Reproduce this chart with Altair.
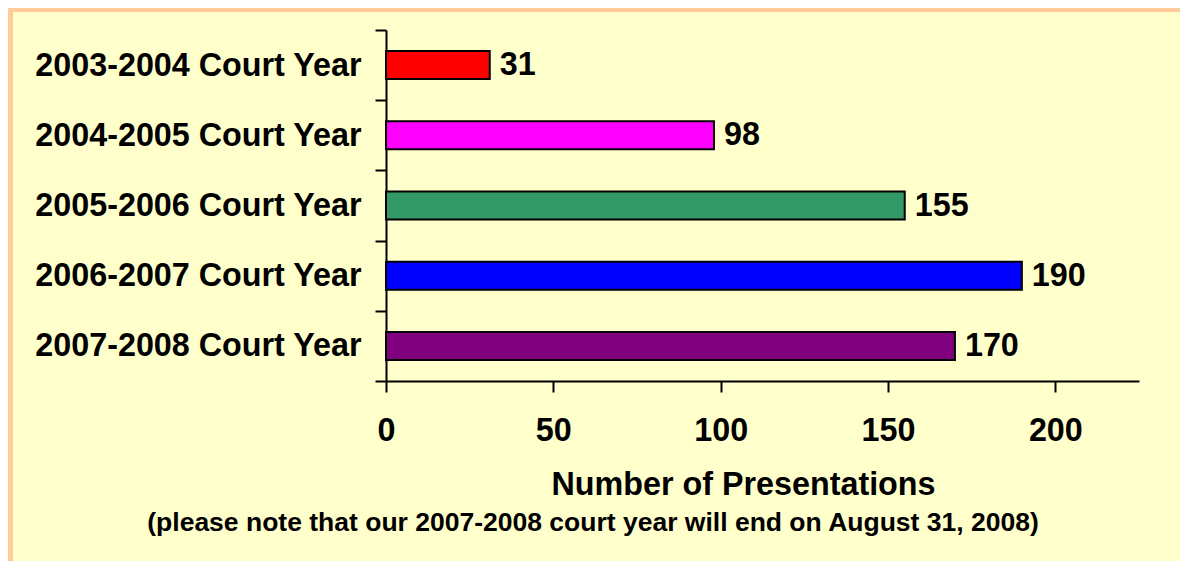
import altair as alt
import pandas as pd

# ---- data ----
categories = [
    "2003-2004 Court Year",
    "2004-2005 Court Year",
    "2005-2006 Court Year",
    "2006-2007 Court Year",
    "2007-2008 Court Year",
]
presentations = [31, 98, 155, 190, 170]
bar_colors = ["#FF0000", "#FF00FF", "#339966", "#0000FF", "#800080"]
x_ticks = [0, 50, 100, 150, 200]
x_domain = [0, 225]
x_title = "Number of Presentations"
caption = "(please note that our 2007-2008 court year will end on August 31, 2008)"

df = pd.DataFrame({"year": categories, "n": presentations})

FONT = "Liberation Sans"
BIG = 32.3
BG = "#FFFFCC"
FRAME = "#FFCC99"
PLOT_W, PLOT_H = 753, 351
PAD = {"left": 378, "top": 22, "right": 41, "bottom": 180}

y_enc = alt.Y(
    "year:N",
    sort=categories,
    scale=alt.Scale(paddingInner=0, paddingOuter=0),
    axis=alt.Axis(
        title=None,
        tickBand="extent",
        tickSize=11,
        tickWidth=2,
        tickColor="black",
        domainWidth=2,
        domainColor="black",
        labelFont=FONT,
        labelFontSize=BIG,
        labelFontWeight="bold",
        labelColor="black",
        labelPadding=14,
        labelLimit=0,
    ),
)
x_enc = alt.X(
    "n:Q",
    scale=alt.Scale(domain=x_domain, nice=False, zero=True),
    axis=alt.Axis(
        values=x_ticks,
        grid=False,
        title=x_title,
        titleFont=FONT,
        titleFontSize=BIG,
        titleFontWeight="bold",
        titleColor="black",
        titleX=357,
        titleY=113,
        titleAlign="center",
        titleBaseline="alphabetic",
        tickSize=11,
        tickWidth=2,
        tickColor="black",
        domainWidth=2,
        domainColor="black",
        labelFont=FONT,
        labelFontSize=BIG,
        labelFontWeight="bold",
        labelColor="black",
        labelBaseline="alphabetic",
        labelPadding=48,
        labelFlush=False,
    ),
)

frame_data = alt.Data(values=[{"k": 1}])
frame_top = alt.Chart(frame_data).mark_rect(color=FRAME).encode(
    x=alt.value(-381), x2=alt.value(802), y=alt.value(-26), y2=alt.value(-18)
)
frame_left = alt.Chart(frame_data).mark_rect(color=FRAME).encode(
    x=alt.value(-381), x2=alt.value(-373), y=alt.value(-26), y2=alt.value(545)
)

bars = alt.Chart(df).mark_bar(stroke="black", strokeWidth=2, size=28).encode(
    x=x_enc,
    y=y_enc,
    color=alt.Color(
        "year:N",
        scale=alt.Scale(domain=categories, range=bar_colors),
        legend=None,
    ),
)

labels = alt.Chart(df).mark_text(
    align="left",
    baseline="middle",
    dx=10,
    font=FONT,
    fontSize=BIG,
    fontWeight="bold",
    color="black",
).encode(x="n:Q", y=alt.Y("year:N", sort=categories), text="n:Q")

cap = alt.Chart(alt.Data(values=[{"t": caption}])).mark_text(
    align="center",
    baseline="alphabetic",
    font=FONT,
    fontSize=26.5,
    fontWeight="bold",
    color="black",
).encode(text="t:N", x=alt.value(207), y=alt.value(501))

chart = (
    alt.layer(frame_top, frame_left, bars, labels, cap)
    .properties(
        width=PLOT_W,
        height=PLOT_H,
        padding=PAD,
        autosize=alt.AutoSizeParams(type="none"),
        background=BG,
    )
    .configure_view(stroke=None)
)

chart.save("out.html", embed_options={"renderer": "svg", "actions": False})
